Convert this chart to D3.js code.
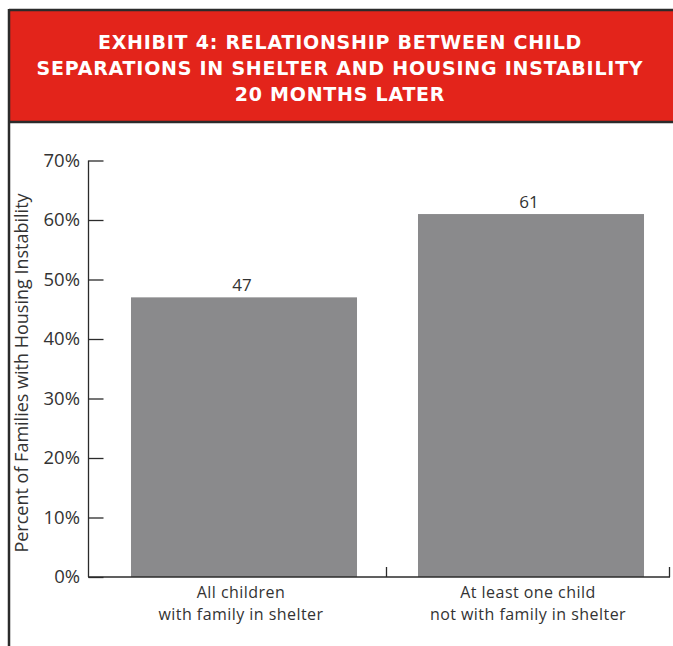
<!DOCTYPE html>
<html><head><meta charset="utf-8">
<script src="https://cdn.jsdelivr.net/npm/d3@7"></script>
<style>
html,body{margin:0;padding:0;background:#fff;}
svg{display:block;}
</style></head>
<body>
<script>
const titleLines = ["EXHIBIT 4: RELATIONSHIP BETWEEN CHILD","SEPARATIONS IN SHELTER AND HOUSING INSTABILITY","20 MONTHS LATER"];
const categories = [["All children","with family in shelter"],["At least one child","not with family in shelter"]];
const values = [47, 61];
const yTicks = [0,10,20,30,40,50,60,70];
const yLabel = "Percent of Families with Housing Instability";

const W = 673, H = 646;
const FONT = "'Open Sans', sans-serif";
const svg = d3.select("body").append("svg").attr("width", W).attr("height", H);

// frame and header
svg.append("rect").attr("x",9).attr("y",10).attr("width",W).attr("height",112).attr("fill","#e3241b");
svg.append("line").attr("x1",9).attr("x2",W).attr("y1",10).attr("y2",10).attr("stroke","#2b2b2b").attr("stroke-width",2.5);
svg.append("line").attr("x1",9).attr("x2",W).attr("y1",122).attr("y2",122).attr("stroke","#2b2b2b").attr("stroke-width",2.5);
svg.append("line").attr("x1",9).attr("x2",9).attr("y1",9).attr("y2",H).attr("stroke","#2b2b2b").attr("stroke-width",2.5);

const ty = [48.5, 74.5, 100.5];
const TFS = 19;
const titleEls = titleLines.map((t,i)=>
  svg.append("text").attr("x",340).attr("y",ty[i]).attr("text-anchor","middle")
    .attr("fill","#fff").attr("font-family","'DejaVu Sans', sans-serif").attr("font-weight","bold")
    .attr("font-size",TFS).text(t));
// small extra tracking so the widest line spans about 606px
const tw = titleEls[1].node().getComputedTextLength();
const ls = Math.max(0, (606 - tw) / (titleLines[1].length - 1));
titleEls.forEach(e=>e.attr("letter-spacing",ls));

const y = d3.scaleLinear().domain([0,70]).range([577,160.5]);
const x = d3.scaleBand().domain(d3.range(values.length)).range([100.5,674.5]).paddingInner(0.2125).paddingOuter(0.10625);

// bars
svg.selectAll("rect.bar").data(values).enter().append("rect").attr("class","bar")
  .attr("x",(d,i)=>x(i)).attr("width",x.bandwidth())
  .attr("y",d=>y(d)).attr("height",d=>y(0)-y(d)).attr("fill","#8a8a8c");

svg.selectAll("text.val").data(values).enter().append("text").attr("class","val")
  .attr("x",(d,i)=>x(i)+x.bandwidth()/2-2).attr("y",d=>y(d)-6).attr("text-anchor","middle")
  .attr("font-family",FONT).attr("font-size",17).attr("fill","#333").text(d=>d);

// y axis
const yAxis = d3.axisRight(y).tickValues(yTicks).tickSize(15).tickFormat("");
const ga = svg.append("g").attr("transform","translate(88.5,0)").call(yAxis);
ga.select(".domain").attr("d",`M0,${y(70)}V${y(0)}`).attr("stroke","#2b2b2b").attr("stroke-width",1.3);
ga.selectAll(".tick line").attr("stroke","#2b2b2b").attr("stroke-width",1.3);
svg.selectAll("text.yt").data(yTicks).enter().append("text").attr("class","yt")
  .attr("x",80).attr("y",d=>y(d)+6).attr("text-anchor","end")
  .attr("font-family",FONT).attr("font-size",18.5).attr("fill","#333").text(d=>d+"%");

// x axis
const xEdges = [386.5, 669.5];
svg.append("line").attr("x1",88).attr("x2",670).attr("y1",577).attr("y2",577).attr("stroke","#2b2b2b").attr("stroke-width",1.5);
xEdges.forEach(e=>{
  svg.append("line").attr("x1",e).attr("x2",e).attr("y1",567).attr("y2",577).attr("stroke","#2b2b2b").attr("stroke-width",1.3);
});

categories.forEach((c,i)=>{
  const cx = x(i)+x.bandwidth()/2-3;
  c.forEach((ln,j)=>svg.append("text").attr("x",cx).attr("y",597.5+j*22).attr("text-anchor","middle")
    .attr("font-family",FONT).attr("font-size",16).attr("letter-spacing",0.45).attr("fill","#333").text(ln));
});

svg.append("text").attr("transform","translate(28,373) rotate(-90)").attr("text-anchor","middle")
  .attr("font-family",FONT).attr("font-size",18).attr("fill","#333").text(yLabel);
</script>
</body></html>
